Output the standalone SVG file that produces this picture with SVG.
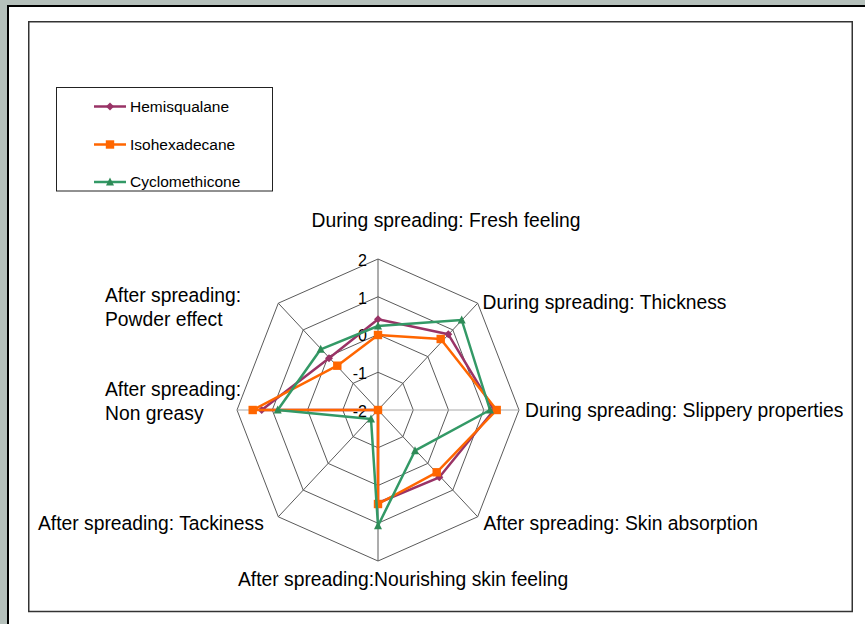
<svg xmlns="http://www.w3.org/2000/svg" xmlns:xlink="http://www.w3.org/1999/xlink" width="865" height="624" viewBox="0 0 865 624">
<style>
text{font-family:"Liberation Sans",Arial,sans-serif;fill:#000}
.lbl{font-size:19.3px}
.tick{font-size:16px;text-anchor:end}
.leg{font-size:15.5px}
.grid{fill:none;stroke:#5a5a5a;stroke-width:1}
.spoke{stroke:#5a5a5a;stroke-width:1}
.hspoke{stroke:#a8a8a8;stroke-width:1}
.s{fill:none;stroke-width:2.5;stroke-linejoin:round}
.hem{stroke:#993366}
.iso{stroke:#FF6600}
.cyc{stroke:#339966}
</style>
<defs>
<path id="dia" d="M0,-4 L4,0 L0,4 L-4,0 Z" fill="#993366"/>
<rect id="sq" x="-4.2" y="-4.2" width="8.4" height="8.4" fill="#FF6600"/>
<path id="tri" d="M0,-4.5 L4,3.5 L-4,3.5 Z" fill="#2E8B57"/>
</defs>
<g id="frame">
<rect x="0" y="0" width="865" height="624" fill="#ffffff"/>
<rect x="0" y="0" width="865" height="5" fill="#b5c0bb"/>
<rect x="0" y="0" width="7" height="624" fill="#b5c0bb"/>
<rect x="7" y="5" width="858" height="2" fill="#000"/>
<rect x="7" y="5" width="2" height="619" fill="#000"/>
<rect x="28.75" y="21.75" width="823.5" height="589.75" fill="none" stroke="#333" stroke-width="1.5"/>
</g>
<g id="legend">
<rect x="56.5" y="87.5" width="216" height="103.5" fill="#fff" stroke="#222" stroke-width="1"/>
<line x1="94" y1="106.5" x2="126" y2="106.5" class="s hem"/>
<use xlink:href="#dia" x="110" y="106.5"/>
<text class="leg" x="130" y="111.5">Hemisqualane</text>
<line x1="94" y1="144.5" x2="126" y2="144.5" class="s iso"/>
<use xlink:href="#sq" x="110" y="144.5"/>
<text class="leg" x="130" y="149.5">Isohexadecane</text>
<line x1="94" y1="182" x2="126" y2="182" class="s cyc"/>
<use xlink:href="#tri" x="110" y="182"/>
<text class="leg" x="130" y="187">Cyclomethicone</text>
</g>
<g id="grid">
<polygon class="grid" points="378,259 477.7,303.2 519,410 477.7,516.8 378,561 278.3,516.8 237,410 278.3,303.2"/>
<polygon class="grid" points="378,296.75 452.8,329.9 483.75,410 452.8,490.1 378,523.25 303.2,490.1 272.25,410 303.2,329.9"/>
<polygon class="grid" points="378,334.5 427.85,356.6 448.5,410 427.85,463.4 378,485.5 328.15,463.4 307.5,410 328.15,356.6"/>
<polygon class="grid" points="378,372.25 402.9,383.3 413.25,410 402.9,436.7 378,447.75 353.1,436.7 342.75,410 353.1,383.3"/>
<line class="spoke" x1="378" y1="410" x2="378" y2="259"/>
<line class="spoke" x1="378" y1="410" x2="477.7" y2="303.2"/>
<line class="hspoke" x1="378" y1="410" x2="519" y2="410"/>
<line class="spoke" x1="378" y1="410" x2="477.7" y2="516.8"/>
<line class="spoke" x1="378" y1="410" x2="378" y2="561"/>
<line class="spoke" x1="378" y1="410" x2="278.3" y2="516.8"/>
<line class="hspoke" x1="378" y1="410" x2="237" y2="410"/>
<line class="spoke" x1="378" y1="410" x2="278.3" y2="303.2"/>
</g>
<g id="ticks">
<text class="tick" x="367" y="266">2</text>
<text class="tick" x="367" y="304">1</text>
<text class="tick" x="367" y="341">0</text>
<text class="tick" x="367" y="379">-1</text>
<text class="tick" x="367" y="416.5">-2</text>
</g>
<g id="series-hemisqualane">
<polygon class="s hem" points="378,319.3 448.3,334.3 494,410 439.3,477.3 378,503 378,410 261.7,410 329,358.3"/>
<use xlink:href="#dia" x="378" y="319.3"/>
<use xlink:href="#dia" x="448.3" y="334.3"/>
<use xlink:href="#dia" x="494" y="410"/>
<use xlink:href="#dia" x="439.3" y="477.3"/>
<use xlink:href="#dia" x="378" y="503"/>
<use xlink:href="#dia" x="378" y="410"/>
<use xlink:href="#dia" x="261.7" y="410"/>
<use xlink:href="#dia" x="329" y="358.3"/>
</g>
<g id="series-isohexadecane">
<polygon class="s iso" points="378,335 440.7,339 496.7,410 436.7,472.3 378,504 378,410 252.7,410 337.3,365.7"/>
<use xlink:href="#sq" x="378" y="335"/>
<use xlink:href="#sq" x="440.7" y="339"/>
<use xlink:href="#sq" x="496.7" y="410"/>
<use xlink:href="#sq" x="436.7" y="472.3"/>
<use xlink:href="#sq" x="378" y="504"/>
<use xlink:href="#sq" x="378" y="410"/>
<use xlink:href="#sq" x="252.7" y="410"/>
<use xlink:href="#sq" x="337.3" y="365.7"/>
</g>
<g id="series-cyclomethicone">
<polygon class="s cyc" points="378,326 461.7,320 490,410 415,450.7 378,525.7 371,419 277.7,410 320.7,349.3"/>
<use xlink:href="#tri" x="378" y="326"/>
<use xlink:href="#tri" x="461.7" y="320"/>
<use xlink:href="#tri" x="490" y="410"/>
<use xlink:href="#tri" x="415" y="450.7"/>
<use xlink:href="#tri" x="378" y="525.7"/>
<use xlink:href="#tri" x="371" y="419"/>
<use xlink:href="#tri" x="277.7" y="410"/>
<use xlink:href="#tri" x="320.7" y="349.3"/>
</g>
<g id="axis-labels">
<text class="lbl" x="311.5" y="226.5">During spreading: Fresh feeling</text>
<text class="lbl" x="482.5" y="308.5">During spreading: Thickness</text>
<text class="lbl" x="525" y="417">During spreading: Slippery properties</text>
<text class="lbl" x="483.5" y="530">After spreading: Skin absorption</text>
<text class="lbl" x="238" y="586">After spreading:Nourishing skin feeling</text>
<text class="lbl" x="38" y="530">After spreading: Tackiness</text>
<text class="lbl" x="105" y="396">After spreading:</text>
<text class="lbl" x="105" y="420">Non greasy</text>
<text class="lbl" x="105" y="302">After spreading:</text>
<text class="lbl" x="105" y="326">Powder effect</text>
</g>
</svg>
